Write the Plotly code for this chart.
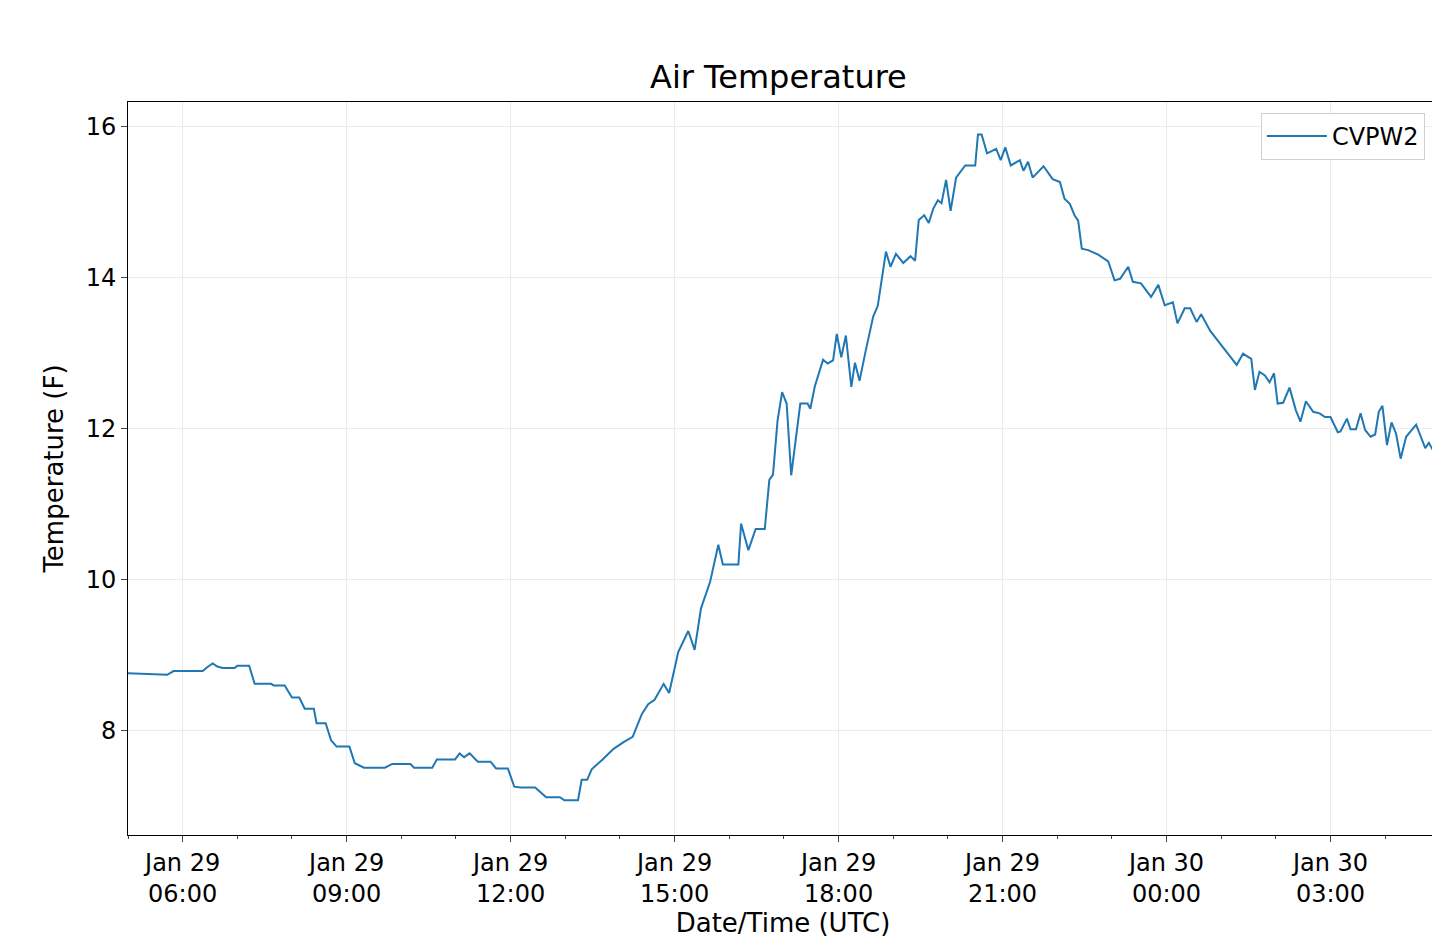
import pandas as pd
import plotly.graph_objects as go

# minutes after 2019-01-29 05:00 UTC
minutes = [0, 43, 50, 82, 88, 93, 98, 104, 117, 120, 133, 139, 157, 160, 172, 180, 188, 194, 204, 207,
           217, 223, 229, 243, 249, 259, 282, 290, 310, 314, 334, 339, 359, 364, 369, 375, 384, 398, 404, 417,
           424, 431, 447, 459, 474, 479, 494, 498, 504, 509, 521, 533, 544, 554, 564, 571, 578, 588, 594, 604,
           615, 622, 629, 639, 648, 653, 670, 673, 681, 689, 699, 704, 708, 713, 718, 723, 728, 738, 746, 749,
           754, 763, 768, 774, 778, 783, 788, 794, 798, 803, 810, 818, 823, 832, 837, 843, 851, 859, 864, 868,
           874, 879, 884, 889, 893, 898, 903, 909, 919, 930, 933, 937, 943, 953, 958, 963, 969, 979, 983, 988,
           993, 1005, 1015, 1023, 1028, 1034, 1039, 1043, 1047, 1054, 1065, 1076, 1083, 1089, 1098, 1103, 1112, 1123, 1131, 1138,
           1147, 1152, 1160, 1166, 1173, 1178, 1188, 1196, 1207, 1217, 1224, 1233, 1237, 1242, 1248, 1253, 1258, 1262, 1268, 1275,
           1282, 1287, 1293, 1301, 1308, 1314, 1320, 1328, 1331, 1338, 1342, 1348, 1353, 1358, 1364, 1369, 1373, 1377, 1382, 1387,
           1392, 1397, 1403, 1414, 1424, 1428, 1433, 1438]
temps = [8.76, 8.74, 8.79, 8.79, 8.85, 8.89, 8.85, 8.83, 8.83, 8.86, 8.86, 8.62, 8.62, 8.60, 8.60, 8.44, 8.44, 8.29, 8.29, 8.10,
         8.10, 7.87, 7.79, 7.79, 7.57, 7.51, 7.51, 7.56, 7.56, 7.51, 7.51, 7.62, 7.62, 7.70, 7.65, 7.70, 7.59, 7.59, 7.50, 7.50,
         7.26, 7.25, 7.25, 7.12, 7.12, 7.08, 7.08, 7.35, 7.35, 7.49, 7.62, 7.76, 7.85, 7.92, 8.22, 8.35, 8.41, 8.62, 8.50, 9.04,
         9.32, 9.07, 9.62, 9.97, 10.46, 10.20, 10.20, 10.74, 10.39, 10.67, 10.67, 11.32, 11.39, 12.10, 12.48, 12.33, 11.38, 12.33, 12.33, 12.26,
         12.56, 12.91, 12.86, 12.90, 13.25, 12.94, 13.23, 12.55, 12.87, 12.63, 13.04, 13.48, 13.62, 14.34, 14.14, 14.31, 14.19, 14.28, 14.22, 14.76,
         14.82, 14.72, 14.91, 15.02, 14.98, 15.29, 14.88, 15.32, 15.48, 15.48, 15.89, 15.89, 15.64, 15.70, 15.55, 15.72, 15.48, 15.55, 15.41, 15.53,
         15.32, 15.47, 15.30, 15.26, 15.04, 14.97, 14.82, 14.75, 14.38, 14.36, 14.30, 14.21, 13.96, 13.98, 14.14, 13.94, 13.92, 13.74, 13.90, 13.63,
         13.67, 13.39, 13.59, 13.59, 13.41, 13.51, 13.29, 13.17, 13.00, 12.84, 12.99, 12.92, 12.51, 12.75, 12.70, 12.61, 12.73, 12.33, 12.34, 12.54,
         12.24, 12.09, 12.36, 12.22, 12.20, 12.15, 12.15, 11.95, 11.96, 12.13, 11.99, 11.99, 12.20, 11.98, 11.89, 11.92, 12.22, 12.30, 11.78, 12.08,
         11.93, 11.60, 11.89, 12.05, 11.74, 11.81, 11.70, 11.82]

start = pd.Timestamp("2019-01-29 05:00")
times = [start + pd.Timedelta(minutes=m) for m in minutes]

tick_vals = pd.date_range("2019-01-29 06:00", periods=8, freq="3h")
tick_text = [t.strftime("%b %d<br>%H:%M") for t in tick_vals]

fig = go.Figure()
fig.add_trace(go.Scatter(x=times, y=temps, mode="lines", name="CVPW2",
                         line=dict(color="#1f77b4", width=2)))

axis_common = dict(showline=True, linecolor="black", linewidth=1, mirror=True,
                   gridcolor="#ebebeb", ticks="outside", ticklen=6, automargin=False,
                   tickfont=dict(size=24, color="black"), zeroline=False)

fig.update_xaxes(range=[start, start + pd.Timedelta(minutes=1438)],
                 tickvals=tick_vals, ticktext=tick_text,
                 title=dict(text="Date/Time (UTC)", font=dict(size=26), standoff=2),
                 minor=dict(dtick=3600000, ticks="outside", ticklen=3, showgrid=False),
                 **axis_common)
fig.update_yaxes(range=[6.62, 16.32], tickvals=[8, 10, 12, 14, 16],
                 title=dict(text="Temperature (F)", font=dict(size=26), standoff=14),
                 **axis_common)

fig.update_layout(
    width=1440, height=945,
    margin=dict(l=120, r=10, t=94, b=118, autoexpand=False),
    paper_bgcolor="white", plot_bgcolor="white",
    font=dict(family="DejaVu Sans", color="black"),
    title=dict(text="Air Temperature", x=0.535, xanchor="center", y=0.927, yanchor="middle",
               font=dict(size=32)),
    showlegend=True,
    legend=dict(x=0.99, y=0.985, xanchor="right", yanchor="top", itemwidth=60,
                bordercolor="#d0d0d0", borderwidth=1, font=dict(size=24)),
)

fig.write_html("out.html")
